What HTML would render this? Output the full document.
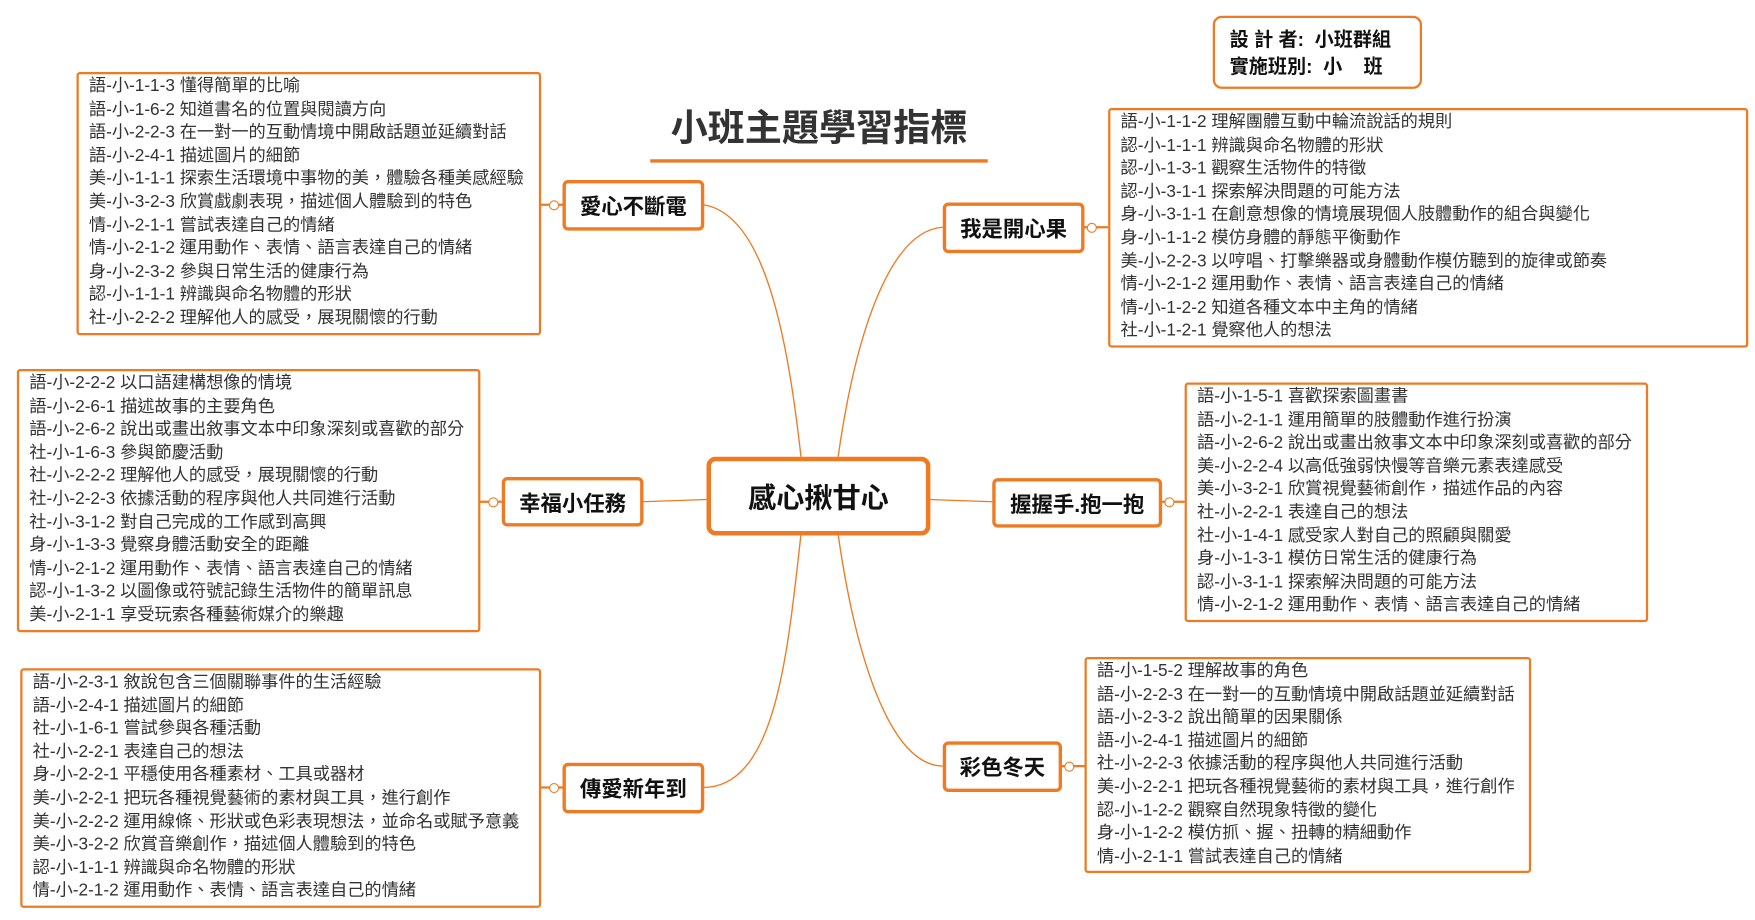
<!DOCTYPE html>
<html><head><meta charset="utf-8"><style>
html,body{margin:0;padding:0;background:#fff;width:1755px;height:920px;overflow:hidden}
#w{position:absolute;left:0;top:0;width:1560px;height:818px;transform:scale(1.125);transform-origin:0 0;font-family:"Liberation Sans","Noto Sans CJK TC",sans-serif;color:#333}
.box{position:absolute;border:2px solid #ee7b24;border-radius:3px;box-sizing:border-box;background:#fff}
.box div{position:absolute;left:9px;font-size:15.3px;white-space:nowrap;line-height:18px}
.node{position:absolute;border:3px solid #ee7b24;border-radius:5px;box-sizing:border-box;background:#fff;font-weight:bold;font-size:19px;color:#111;display:flex;align-items:center;justify-content:center;white-space:nowrap}
.c{position:absolute;width:7px;height:7px;border:1px solid #ee7b24;border-radius:50%;background:#fff}
</style></head><body><div id="w">
<svg width="1560" height="818" style="position:absolute;left:0;top:0">
<g fill="none" stroke="#ee7b24" stroke-width="1.2">
<path d="M712 406 C700 300 680 190 625 182"/>
<path d="M745 406 C760 300 790 205 838 202"/>
<path d="M628 444 L571 446"/>
<path d="M826 444 L882 446"/>
<path d="M712 475 C700 580 690 700 625 700"/>
<path d="M745 475 C760 580 790 680 838 681"/>
</g>
<g stroke="#ee7b24" stroke-width="2">
<line x1="480" y1="182" x2="500" y2="182"/>
<line x1="963" y1="202" x2="985" y2="202"/>
<line x1="426" y1="446" x2="446" y2="446"/>
<line x1="1032" y1="446" x2="1053" y2="446"/>
<line x1="480" y1="700" x2="500" y2="700"/>
<line x1="943" y1="681" x2="964" y2="681"/>
</g>
<line x1="578" y1="143" x2="878" y2="143" stroke="#ee7b24" stroke-width="3"/>
<text x="728" y="125" text-anchor="middle" font-size="33" font-weight="bold" fill="#333" font-family="Liberation Sans,Noto Sans CJK TC,sans-serif">小班主題學習指標</text>
</svg>
<div class="c" style="left:488px;top:178px"></div>
<div class="c" style="left:966px;top:198px"></div>
<div class="c" style="left:434px;top:442px"></div>
<div class="c" style="left:1035px;top:442px"></div>
<div class="c" style="left:488px;top:696px"></div>
<div class="c" style="left:946px;top:677px"></div>

<div class="box" style="left:1078px;top:14px;width:186px;height:65px;border-radius:8px;">
<div style="left:13px;top:8px;font-weight:bold;font-size:17px;color:#111;line-height:24px">設 計 者:&nbsp; 小班群組<br>實施班別:&nbsp; 小&nbsp;&nbsp;&nbsp;&nbsp;班</div></div>

<div class="node" style="left:628px;top:406px;width:199px;height:70px;border-width:4px;border-radius:8px;font-size:25px">感心揪甘心</div>
<div class="node" style="left:500px;top:160px;width:126px;height:45px">愛心不斷電</div>
<div class="node" style="left:838px;top:180px;width:126px;height:45px">我是開心果</div>
<div class="node" style="left:446px;top:424px;width:126px;height:44px">幸福小任務</div>
<div class="node" style="left:882px;top:425px;width:151px;height:44px">握握手.抱一抱</div>
<div class="node" style="left:500px;top:678px;width:126px;height:45px">傳愛新年到</div>
<div class="node" style="left:838px;top:659px;width:106px;height:45px">彩色冬天</div>

<div class="box" style="left:68px;top:64px;width:413px;height:234px"><div style="top:1px;line-height:20.6px">
語-小-1-1-3 懂得簡單的比喻<br>語-小-1-6-2 知道書名的位置與閱讀方向<br>語-小-2-2-3 在一對一的互動情境中開啟話題並延續對話<br>語-小-2-4-1 描述圖片的細節<br>美-小-1-1-1 探索生活環境中事物的美，體驗各種美感經驗<br>美-小-3-2-3 欣賞戲劇表現，描述個人體驗到的特色<br>情-小-2-1-1 嘗試表達自己的情緒<br>情-小-2-1-2 運用動作、表情、語言表達自己的情緒<br>身-小-2-3-2 參與日常生活的健康行為<br>認-小-1-1-1 辨識與命名物體的形狀<br>社-小-2-2-2 理解他人的感受，展現關懷的行動</div></div>

<div class="box" style="left:985px;top:96px;width:569px;height:213px"><div style="top:1px;line-height:20.6px">
語-小-1-1-2 理解團體互動中輪流說話的規則<br>認-小-1-1-1 辨識與命名物體的形狀<br>認-小-1-3-1 觀察生活物件的特徵<br>認-小-3-1-1 探索解決問題的可能方法<br>身-小-3-1-1 在創意想像的情境展現個人肢體動作的組合與變化<br>身-小-1-1-2 模仿身體的靜態平衡動作<br>美-小-2-2-3 以哼唱、打擊樂器或身體動作模仿聽到的旋律或節奏<br>情-小-2-1-2 運用動作、表情、語言表達自己的情緒<br>情-小-1-2-2 知道各種文本中主角的情緒<br>社-小-1-2-1 覺察他人的想法</div></div>

<div class="box" style="left:15px;top:328px;width:412px;height:234px"><div style="top:1px;line-height:20.6px">
語-小-2-2-2 以口語建構想像的情境<br>語-小-2-6-1 描述故事的主要角色<br>語-小-2-6-2 說出或畫出敘事文本中印象深刻或喜歡的部分<br>社-小-1-6-3 參與節慶活動<br>社-小-2-2-2 理解他人的感受，展現關懷的行動<br>社-小-2-2-3 依據活動的程序與他人共同進行活動<br>社-小-3-1-2 對自己完成的工作感到高興<br>身-小-1-3-3 覺察身體活動安全的距離<br>情-小-2-1-2 運用動作、表情、語言表達自己的情緒<br>認-小-1-3-2 以圖像或符號記錄生活物件的簡單訊息<br>美-小-2-1-1 享受玩索各種藝術媒介的樂趣</div></div>

<div class="box" style="left:1053px;top:340px;width:412px;height:213px"><div style="top:1px;line-height:20.6px">
語-小-1-5-1 喜歡探索圖畫書<br>語-小-2-1-1 運用簡單的肢體動作進行扮演<br>語-小-2-6-2 說出或畫出敘事文本中印象深刻或喜歡的部分<br>美-小-2-2-4 以高低強弱快慢等音樂元素表達感受<br>美-小-3-2-1 欣賞視覺藝術創作，描述作品的內容<br>社-小-2-2-1 表達自己的想法<br>社-小-1-4-1 感受家人對自己的照顧與關愛<br>身-小-1-3-1 模仿日常生活的健康行為<br>認-小-3-1-1 探索解決問題的可能方法<br>情-小-2-1-2 運用動作、表情、語言表達自己的情緒</div></div>

<div class="box" style="left:18px;top:594px;width:463px;height:213px"><div style="top:1px;line-height:20.6px">
語-小-2-3-1 敘說包含三個關聯事件的生活經驗<br>語-小-2-4-1 描述圖片的細節<br>社-小-1-6-1 嘗試參與各種活動<br>社-小-2-2-1 表達自己的想法<br>身-小-2-2-1 平穩使用各種素材、工具或器材<br>美-小-2-2-1 把玩各種視覺藝術的素材與工具，進行創作<br>美-小-2-2-2 運用線條、形狀或色彩表現想法，並命名或賦予意義<br>美-小-3-2-2 欣賞音樂創作，描述個人體驗到的特色<br>認-小-1-1-1 辨識與命名物體的形狀<br>情-小-2-1-2 運用動作、表情、語言表達自己的情緒</div></div>

<div class="box" style="left:964px;top:584px;width:397px;height:192px"><div style="top:1px;line-height:20.6px">
語-小-1-5-2 理解故事的角色<br>語-小-2-2-3 在一對一的互動情境中開啟話題並延續對話<br>語-小-2-3-2 說出簡單的因果關係<br>語-小-2-4-1 描述圖片的細節<br>社-小-2-2-3 依據活動的程序與他人共同進行活動<br>美-小-2-2-1 把玩各種視覺藝術的素材與工具，進行創作<br>認-小-1-2-2 觀察自然現象特徵的變化<br>身-小-1-2-2 模仿抓、握、扭轉的精細動作<br>情-小-2-1-1 嘗試表達自己的情緒</div></div>
</div></body></html>
